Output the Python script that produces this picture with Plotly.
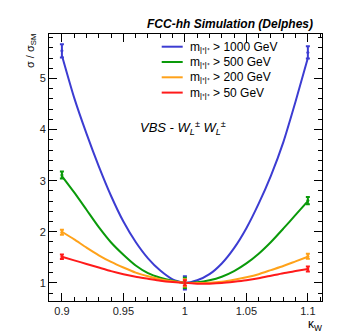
import plotly.graph_objects as go

# ---- data ----
labels = ["m<sub>l⁺l⁺</sub> > 1000 GeV", "m<sub>l⁺l⁺</sub> > 500 GeV",
          "m<sub>l⁺l⁺</sub> > 200 GeV", "m<sub>l⁺l⁺</sub> > 50 GeV"]
colors = ["#3c3cd2", "#0a9a0a", "#ffa21a", "#ff1a1a"]

k_grid = [0.90, 0.91, 0.92, 0.93, 0.94, 0.95, 0.96, 0.97, 0.98, 0.99, 1.00,
          1.01, 1.02, 1.03, 1.04, 1.05, 1.06, 1.07, 1.08, 1.09, 1.10]
v_blue = [5.45, 4.62, 3.92, 3.28, 2.70, 2.20, 1.80, 1.48, 1.24, 1.07, 1.00,
          1.05, 1.17, 1.38, 1.68, 2.07, 2.55, 3.10, 3.75, 4.55, 5.40]
v_green = [3.09, 2.77, 2.43, 2.09, 1.79, 1.55, 1.34, 1.19, 1.10, 1.04, 1.00,
           1.01, 1.05, 1.12, 1.23, 1.38, 1.57, 1.80, 2.06, 2.33, 2.60]
v_orange = [2.00, 1.85, 1.69, 1.54, 1.41, 1.30, 1.20, 1.13, 1.07, 1.03, 1.00,
            0.995, 1.00, 1.02, 1.06, 1.11, 1.17, 1.25, 1.33, 1.42, 1.51]
v_red = [1.51, 1.44, 1.37, 1.30, 1.23, 1.17, 1.12, 1.08, 1.04, 1.015, 1.00,
         0.985, 0.985, 0.995, 1.02, 1.05, 1.09, 1.14, 1.19, 1.23, 1.27]

k_points = [0.9, 1.0, 1.1]
pts_blue = [5.54, 1.0, 5.51]
pts_green = [3.11, 1.0, 2.61]
pts_orange = [1.99, 1.0, 1.52]
pts_red = [1.51, 1.0, 1.27]
err_blue = [0.13, 0.13, 0.12]
err_green = [0.07, 0.1, 0.07]
err_orange = [0.05, 0.07, 0.05]
err_red = [0.045, 0.05, 0.05]

x_ticks = [0.9, 0.95, 1.0, 1.05, 1.1]
x_ticktext = ["0.9", "0.95", "1", "1.05", "1.1"]
y_ticks = [1, 2, 3, 4, 5]

series = [v_blue, v_green, v_orange, v_red]
points = [(pts_blue, err_blue), (pts_green, err_green), (pts_orange, err_orange), (pts_red, err_red)]

FONT = "Liberation Sans, Arial, Helvetica, sans-serif"

# the page has an 8px body margin; size the figure so the plot frame lands
# at x 49..322, y 34..301 of the 349x335 window
W, H = 341, 327
PL, PR, PT, PB = 41, 19, 26, 34
PW, PH = W - PL - PR - 8, H - PT - PB
PR = W - PL - PW


def px(xp):  # window pixel -> paper x
    return (xp - 8 - PL) / PW


def py(yp):  # window pixel -> paper y
    return (H - PB - (yp - 8)) / PH


fig = go.Figure()
for vv, lab, col in zip(series, labels, colors):
    fig.add_trace(go.Scatter(x=k_grid, y=vv, mode="lines", name=lab, showlegend=False,
                             line=dict(color=col, width=2, shape="spline", smoothing=0.6)))
for (pv, pe), col in zip(points, colors):
    fig.add_trace(go.Scatter(x=k_points, y=pv, mode="markers", showlegend=False,
                             marker=dict(color=col, size=3),
                             error_y=dict(type="data", array=pe, color=col, thickness=2, width=2)))

axis_common = dict(showline=True, linecolor="black", linewidth=1, mirror="ticks",
                   ticks="inside", ticklen=8, tickcolor="black", tickwidth=1,
                   showgrid=False, zeroline=False,
                   tickfont=dict(family=FONT, size=11, color="#222"))

fig.update_xaxes(range=[0.8895, 1.1115], tickvals=x_ticks, ticktext=x_ticktext,
                 minor=dict(dtick=0.01, tick0=0.9, ticks="inside", ticklen=4,
                            tickcolor="black", showgrid=False),
                 **axis_common)
fig.update_yaxes(range=[0.645, 5.87], tickvals=y_ticks,
                 minor=dict(dtick=0.2, tick0=0, ticks="inside", ticklen=4,
                            tickcolor="black", showgrid=False),
                 **axis_common)

# manual legend (compact ROOT-style spacing)
shapes = []
annotations = []
for i, (lab, col) in enumerate(zip(labels, colors)):
    yrow = 46.7 + i * 15.3
    shapes.append(dict(type="line", xref="paper", yref="paper",
                       x0=px(161.7), x1=px(182.7), y0=py(yrow), y1=py(yrow),
                       line=dict(color=col, width=2)))
    annotations.append(dict(text=lab, xref="paper", yref="paper",
                            x=px(187.5), y=py(yrow + 1), xanchor="left", yanchor="middle",
                            showarrow=False, font=dict(family=FONT, size=12, color="black")))

annotations += [
    dict(text="<b><i>FCC-hh Simulation (Delphes)</i></b>", xref="paper", yref="paper",
         x=px(315), y=py(24), xanchor="right", yanchor="middle", showarrow=False,
         font=dict(family=FONT, size=12)),
    dict(text="<i>VBS - W<sub>L</sub><sup>±</sup> W<sub>L</sub><sup>±</sup></i>",
         xref="paper", yref="paper", x=px(138), y=py(128),
         xanchor="left", yanchor="middle", showarrow=False,
         font=dict(family=FONT, size=13)),
    dict(text="σ / σ<sub>SM</sub>", xref="paper", yref="paper",
         x=px(31), y=py(32), xanchor="center", yanchor="top",
         textangle=-90, showarrow=False, font=dict(family=FONT, size=11)),
    dict(text="κ<sub>W</sub>", xref="paper", yref="paper",
         x=px(324), y=py(314.5), xanchor="right", yanchor="top",
         showarrow=False, font=dict(family=FONT, size=12)),
]

fig.update_layout(
    width=W, height=H, autosize=False,
    margin=dict(l=PL, r=PR, t=PT, b=PB),
    paper_bgcolor="white", plot_bgcolor="white",
    font=dict(family=FONT, color="black"),
    showlegend=False,
    shapes=shapes,
    annotations=annotations,
)

fig.write_html("out.html")
